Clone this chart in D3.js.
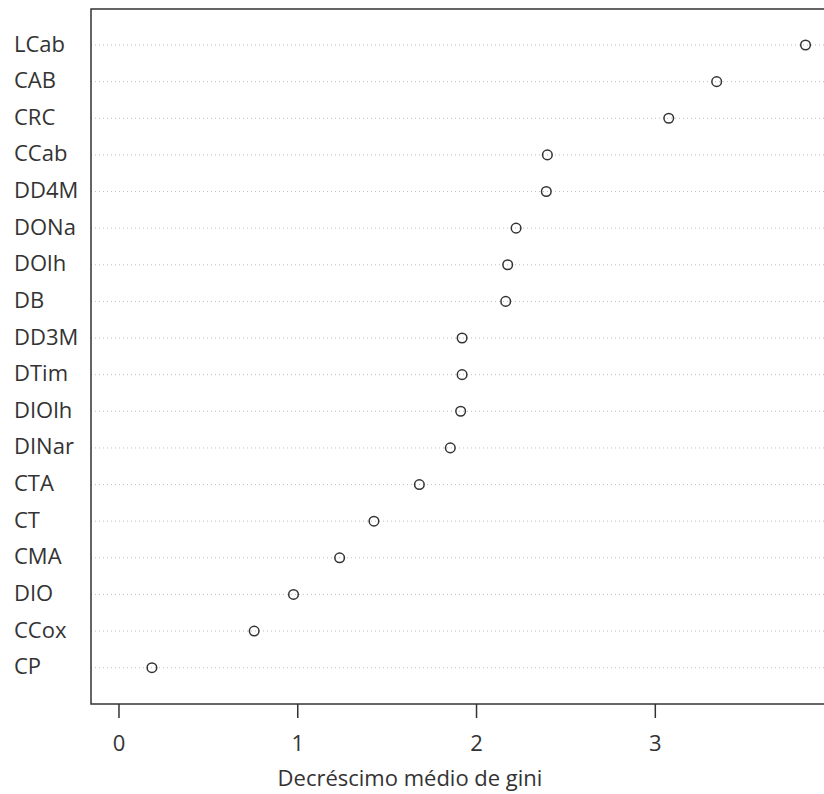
<!DOCTYPE html>
<html>
<head>
<meta charset="utf-8">
<script src="https://cdn.jsdelivr.net/npm/d3@7"></script>
<style>
  body { margin: 0; background: #fff; }
  svg { display: block; font-family: "Open Sans", sans-serif; }
</style>
</head>
<body>
<svg id="chart" width="824" height="794"></svg>
<script>
// variables, top to bottom as drawn
const variables = ["LCab", "CAB", "CRC", "CCab", "DD4M", "DONa", "DOlh", "DB", "DD3M",
    "DTim", "DIOlh", "DINar", "CTA", "CT", "CMA", "DIO", "CCox", "CP"];
const gini = [3.843, 3.346, 3.078, 2.399, 2.393, 2.224, 2.177, 2.166, 1.922,
    1.922, 1.914, 1.856, 1.683, 1.429, 1.237, 0.979, 0.759, 0.187];
const xTicks = [0, 1, 2, 3];
const xTitle = "Decréscimo médio de gini";

const svg = d3.select("#chart");
const plotLeft = 91, plotTop = 9, plotBottom = 704, plotRight = 833;
const ink = "#333";
const fontSize = "22px";

// R style: xlim = c(0, max) widened by 4% on each side
const maxVal = d3.max(gini);
const pad = maxVal * 0.04;
const x = d3.scaleLinear()
    .domain([-pad, maxVal + pad])
    .range([plotLeft, plotRight]);

const y = d3.scalePoint()
    .domain(variables)
    .range([45, 667.7]);

const data = variables.map((v, i) => ({ name: v, value: gini[i] }));

// dotted guide lines
svg.append("g").selectAll("line")
    .data(data)
    .enter().append("line")
    .attr("x1", plotLeft)
    .attr("x2", plotRight)
    .attr("y1", d => y(d.name))
    .attr("y2", d => y(d.name))
    .attr("stroke", "#bebebe")
    .attr("stroke-width", 1)
    .attr("stroke-dasharray", "1,3");

// points
svg.append("g").selectAll("circle")
    .data(data)
    .enter().append("circle")
    .attr("cx", d => x(d.value))
    .attr("cy", d => y(d.name))
    .attr("r", 4.8)
    .attr("fill", "none")
    .attr("stroke", ink)
    .attr("stroke-width", 1.5);

// row labels
svg.append("g").selectAll("text")
    .data(data)
    .enter().append("text")
    .attr("x", 14)
    .attr("y", d => y(d.name) + 6.5)
    .style("font-size", fontSize)
    .attr("fill", ink)
    .text(d => d.name);

// box
svg.append("rect")
    .attr("x", plotLeft)
    .attr("y", plotTop)
    .attr("width", plotRight - plotLeft)
    .attr("height", plotBottom - plotTop)
    .attr("fill", "none")
    .attr("stroke", ink)
    .attr("stroke-width", 1.5);

// x axis
const axis = svg.append("g")
    .attr("transform", `translate(0,${plotBottom})`)
    .call(d3.axisBottom(x).tickValues(xTicks).tickSize(14).tickFormat(d3.format("d")));
axis.select(".domain").remove();
axis.selectAll(".tick line").attr("stroke", ink).attr("stroke-width", 1.5);
axis.selectAll(".tick text")
    .attr("y", 47)
    .attr("dy", null)
    .attr("fill", ink)
    .style("font-size", fontSize)
    .style("font-family", "Open Sans, sans-serif");

svg.append("text")
    .attr("x", 410)
    .attr("y", 786)
    .attr("text-anchor", "middle")
    .style("font-size", fontSize)
    .attr("fill", ink)
    .text(xTitle);
</script>
</body>
</html>
